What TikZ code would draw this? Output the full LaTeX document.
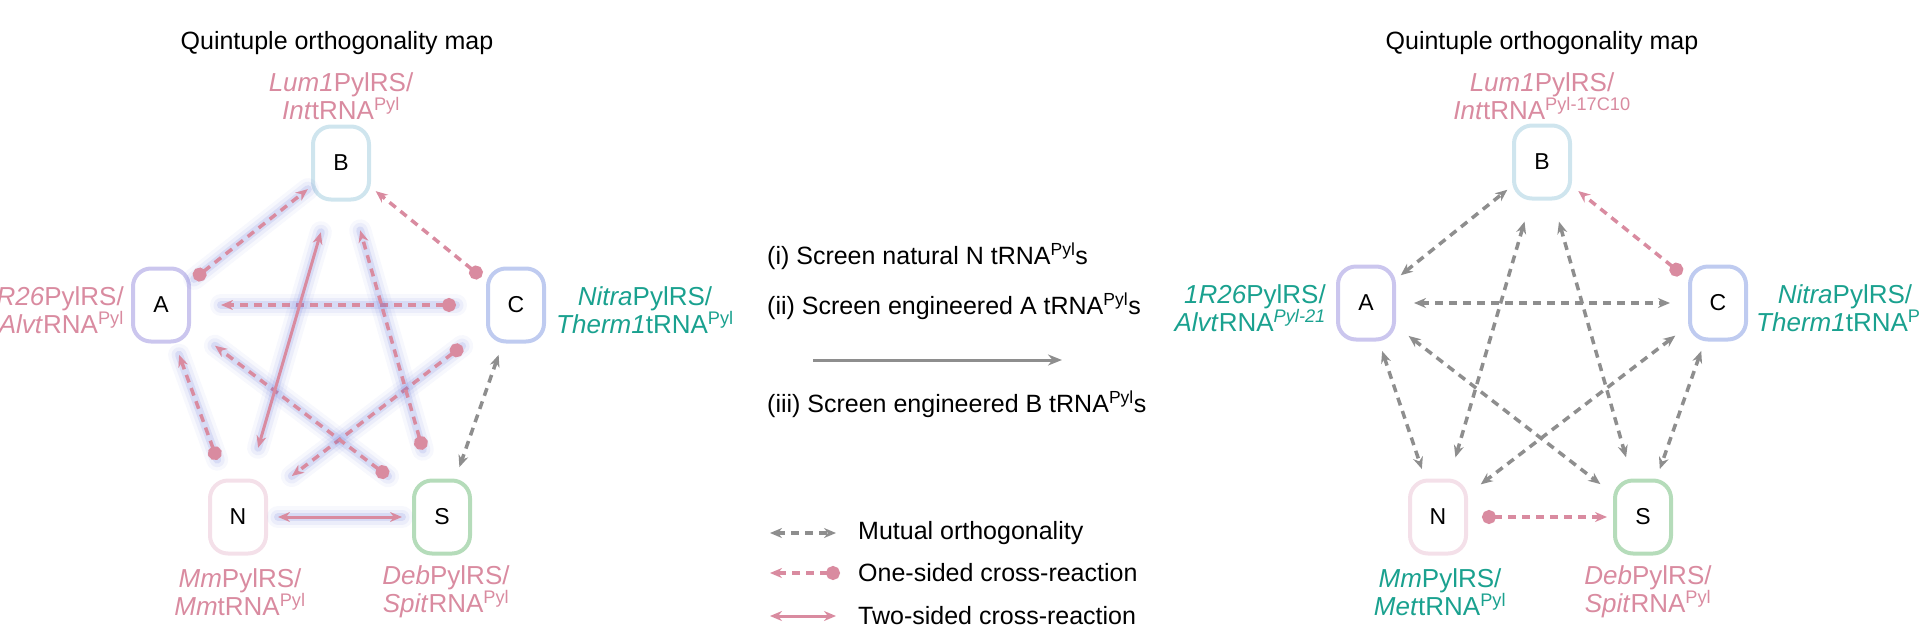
\documentclass[tikz,border=0pt]{standalone}
\usepackage{fontspec}
\setmainfont{Liberation Sans}
\usetikzlibrary{arrows.meta}
\definecolor{pinkc}{HTML}{D98BA0}
\definecolor{tealc}{HTML}{1AA18F}
\definecolor{greyc}{HTML}{8E8E8E}
\definecolor{glowb}{HTML}{5F6FD6}
\definecolor{bB}{HTML}{CFE5EE}
\definecolor{bA}{HTML}{CBC6EE}
\definecolor{bC}{HTML}{BFCBF0}
\definecolor{bN}{HTML}{F4E0E9}
\definecolor{bS}{HTML}{B5DCBA}
\tikzset{
 box/.style={draw=#1,line width=4,rounded corners=18,minimum width=56,minimum height=73,inner sep=0,font=\fontsize{23}{23}\selectfont},
 lab/.style={font=\fontsize{26}{28}\selectfont,align=center,inner sep=0},
 txt/.style={font=\fontsize{25}{27}\selectfont,inner sep=0},
 mut/.style={draw=greyc,line width=3.5,dash pattern=on 8 off 6,{Stealth[length=12,width=10]}-{Stealth[length=12,width=10]}},
 one/.style={draw=pinkc,line width=3.5,dash pattern=on 8 off 6,{Circle[length=14,width=14]}-{Stealth[length=12,width=10]}},
 two/.style={draw=pinkc,line width=3,{Stealth[length=12,width=10]}-{Stealth[length=12,width=10]}},
 glow/.style={preaction={draw=glowb,line width=22,opacity=.05,solid,arrows=-,line cap=round},preaction={draw=glowb,line width=15,opacity=.08,solid,arrows=-,line cap=round},preaction={draw=glowb,line width=8,opacity=.14,solid,arrows=-,line cap=round}},
 sh/.style={shorten <=#1,shorten >=#1},
}
\begin{document}
\begin{tikzpicture}[x=1pt,y=-1pt]
\useasboundingbox (0,0) rectangle (1920,630);
% ---------- left map
\node[txt] (lt) at (337,43) {Quintuple orthogonality map};
\node[box=bB] (lB) at (341,163) {B};
\node[box=bA] (lA) at (161,305) {A};
\node[box=bC] (lC) at (516,305) {C};
\node[box=bN] (lN) at (238,517) {N};
\node[box=bS] (lS) at (442,517) {S};
\node[lab,text=pinkc] (lBl) at (341,96) {\textit{Lum1}PylRS/\\\textit{Int}tRNA\textsuperscript{Pyl}};
\node[lab,text=pinkc,anchor=east,align=right] (lAl) at (124,310) {\textit{1R26}PylRS/\\\textit{Alvt}RNA\textsuperscript{Pyl}};
\node[lab,text=tealc,anchor=west] (lCl) at (556,310) {\textit{Nitra}PylRS/\\\textit{Therm1}tRNA\textsuperscript{Pyl}};
\node[lab,text=pinkc] (lNl) at (240,592) {\textit{Mm}PylRS/\\\textit{Mm}tRNA\textsuperscript{Pyl}};
\node[lab,text=pinkc] (lSl) at (446,592) {\textit{Deb}PylRS/\\\textit{Spit}RNA\textsuperscript{Pyl}};
\draw[one,glow,sh=4] (lA) -- (lB);
\draw[one,sh=6] (lC) -- (lB);
\draw[one,glow,sh=30] (lC) -- (lA);
\draw[one,glow,sh=30] (lC) -- (lN);
\draw[one,glow,sh=30] (lS) -- (lA);
\draw[one,glow,sh=30] (lS) -- (lB);
\draw[one,glow,shorten <=20,shorten >=12] (lN) -- (lA);
\draw[two,glow,sh=32] (lN) -- (lB);
\draw[two,glow,sh=10] (lN) -- (lS);
\draw[mut,sh=12] (lC) -- (lS);
% ---------- middle
\node[txt,anchor=west] (m1) at (767,256) {(i) Screen natural N tRNA\textsuperscript{Pyl}s};
\node[txt,anchor=west] (m2) at (767,306) {(ii) Screen engineered A tRNA\textsuperscript{Pyl}s};
\node[txt,anchor=west] (m3) at (767,404) {(iii) Screen engineered B tRNA\textsuperscript{Pyl}s};
\coordinate (ms) at (813,360);
\coordinate (me) at (1062,360);
\draw[greyc,line width=3,-{Stealth[length=14,width=11]}] (ms) -- (me);
\coordinate (k1a) at (770,533); \coordinate (k1b) at (836,533);
\coordinate (k2a) at (770,573); \coordinate (k2b) at (840,573);
\coordinate (k3a) at (770,616); \coordinate (k3b) at (836,616);
\draw[mut] (k1a) -- (k1b);
\draw[one] (k2b) -- (k2a);
\draw[two] (k3a) -- (k3b);
\node[txt,anchor=west] (l1) at (858,533) {Mutual orthogonality};
\node[txt,anchor=west] (l2) at (858,573) {One-sided cross-reaction};
\node[txt,anchor=west] (l3) at (858,616) {Two-sided cross-reaction};
% ---------- right map
\node[txt] (rt) at (1542,43) {Quintuple orthogonality map};
\node[box=bB] (rB) at (1542,162) {B};
\node[box=bA] (rA) at (1366,303) {A};
\node[box=bC] (rC) at (1718,303) {C};
\node[box=bN] (rN) at (1438,517) {N};
\node[box=bS] (rS) at (1643,517) {S};
\node[lab,text=pinkc] (rBl) at (1542,96) {\textit{Lum1}PylRS/\\\textit{Int}tRNA\textsuperscript{Pyl-17C10}};
\node[lab,text=tealc,anchor=east,align=right] (rAl) at (1326,308) {\textit{1R26}PylRS/\\\textit{Alvt}RNA\textsuperscript{\textit{Pyl-21}}};
\node[lab,text=tealc,anchor=west] (rCl) at (1756,308) {\textit{Nitra}PylRS/\\\textit{Therm1}tRNA\textsuperscript{Pyl}};
\node[lab,text=tealc] (rNl) at (1440,592) {\textit{Mm}PylRS/\\\textit{Met}tRNA\textsuperscript{Pyl}};
\node[lab,text=pinkc] (rSl) at (1648,592) {\textit{Deb}PylRS/\\\textit{Spit}RNA\textsuperscript{Pyl}};
\draw[mut,sh=6] (rA) -- (rB);
\draw[mut,sh=18] (rA) -- (rC);
\draw[mut,sh=10] (rA) -- (rN);
\draw[mut,sh=16] (rA) -- (rS);
\draw[mut,sh=22] (rB) -- (rN);
\draw[mut,sh=22] (rB) -- (rS);
\draw[mut,sh=16] (rC) -- (rN);
\draw[mut,sh=10] (rC) -- (rS);
\draw[one,sh=8] (rC) -- (rB);
\draw[one,shorten <=14,shorten >=6] (rN) -- (rS);
\end{tikzpicture}
\end{document}
